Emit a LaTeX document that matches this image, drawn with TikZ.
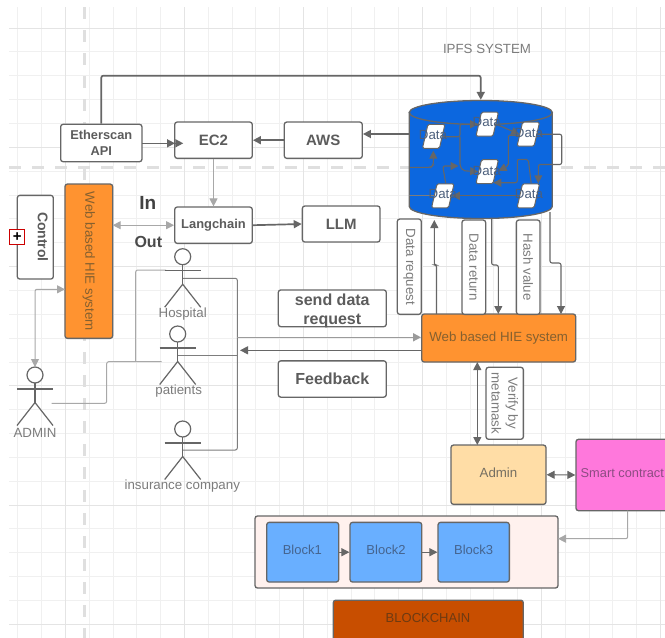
\documentclass[tikz,border=0pt]{standalone}
\usepackage{fontspec}
\setmainfont{Liberation Sans}
\usetikzlibrary{arrows.meta,shapes.geometric}
\definecolor{ln}{HTML}{666666}
\definecolor{lnlight}{HTML}{A8A8A8}
\definecolor{txt}{HTML}{5C5C5C}
\definecolor{txl}{HTML}{7C7C7C}
\definecolor{gridc}{HTML}{F0F0F0}
\definecolor{gridm}{HTML}{E4E4E4}
\definecolor{dashc}{HTML}{DFDFDF}
\definecolor{dbblue}{HTML}{0C67DF}
\definecolor{hie}{HTML}{FF9330}
\definecolor{hietx}{HTML}{85602F}
\definecolor{admfill}{HTML}{FFDDA6}
\definecolor{admtx}{HTML}{756F62}
\definecolor{pinkf}{HTML}{FF78DC}
\definecolor{pinktx}{HTML}{8C4C82}
\definecolor{chainf}{HTML}{FFF1EE}
\definecolor{blockf}{HTML}{69AFFF}
\definecolor{blocktx}{HTML}{45648F}
\definecolor{bcf}{HTML}{C84E00}
\definecolor{bctx}{HTML}{6E3A12}
\definecolor{datatx}{HTML}{4C5F7C}
\newcommand{\plainfs}{\fontsize{13.3}{15.5}\selectfont}
\tikzset{
  x=1pt,y=-1pt,
  box/.style={draw=ln,line width=1.3pt,rounded corners=2.5pt,fill=white,text=txt,align=center,inner sep=0pt,font=\bfseries\fontsize{15}{17}\selectfont},
  plainbox/.style={box,font=\plainfs},
  lbl/.style={plainbox,text=txl,rotate=-90},
  dt/.style={draw=ln,line width=1pt,fill=white,rounded corners=1.5pt,xslant=0.23,minimum width=17pt,minimum height=24pt,inner sep=0pt},
  dtx/.style={text=datatx,font=\plainfs,inner sep=0pt},
  tx/.style={text=txl,inner sep=0pt,font=\plainfs},
  ar/.style={draw=ln,line width=1.1pt,rounded corners=2pt,-{Triangle[length=8pt,width=8pt]}},
  arr/.style={ar,{Triangle[length=8pt,width=8pt]}-{Triangle[length=8pt,width=8pt]}},
  thick line/.style={line width=1.7pt},
  light line/.style={draw=lnlight,line width=1pt},
  wire/.style={draw=ln!85,line width=1pt,rounded corners=2pt},
  lwire/.style={draw=lnlight,line width=1pt,rounded corners=2pt},
  actor/.style={draw=ln,line width=1.2pt},
}
\newcommand{\stick}[3]{% x, y of head centre, half arm width
  \draw[actor] (#1,#2+8) -- (#1,#2+27.5);
  \draw[actor] (#1-#3,#2+14) -- (#1+#3,#2+14);
  \draw[actor] (#1-#3,#2+50.5) -- (#1,#2+27.5) -- (#1+#3,#2+50.5);
  \draw[actor,fill=white] (#1,#2) circle (8);
}
\begin{document}
\begin{tikzpicture}
\useasboundingbox (0,0) rectangle (665,638);
\fill[white] (0,0) rectangle (665,638);
% grid
\foreach \k in {0,...,27} {\draw[gridc,line width=0.8pt] ({17.8+23.8*\k},7) -- ({17.8+23.8*\k},638);}
\foreach \k in {0,...,25} {\draw[gridc,line width=0.8pt] (9,{28+23.85*\k}) -- (665,{28+23.85*\k});}
\foreach \k in {0,...,5} {\draw[gridm,line width=0.8pt] ({65.4+119*\k},7) -- ({65.4+119*\k},638);}
\foreach \k in {0,...,5} {\draw[gridm,line width=0.8pt] (9,{28+119.25*\k}) -- (665,{28+119.25*\k});}
\draw[dashc,line width=3pt,dash pattern=on 11.5pt off 11.5pt] (84,7) -- (84,638);
\draw[dashc,line width=3pt,dash pattern=on 11.5pt off 11.5pt] (9,167) -- (665,167);

\node[text=txl,font=\plainfs,inner sep=0pt] (ipfs) at (487,49) {IPFS SYSTEM};

% database
\path[draw=ln,line width=1.3pt,fill=dbblue] (409.3,112.5) -- (409.3,206.5) arc[start angle=180,end angle=360,x radius=71.5,y radius=-12] -- (552.3,112.5) -- cycle;
\node[draw=ln,line width=1.3pt,fill=dbblue,shape=ellipse,minimum width=143pt,minimum height=24pt,inner sep=0pt] (db) at (480.8,112.5) {};
\coordinate (dbleft) at (409.3,134);
\coordinate (dbL2) at (409.3,167.3);
\coordinate (dbL3) at (409.3,195.8);

% boxes
\node[box,minimum width=81.3pt,minimum height=37.4pt,font=\bfseries\fontsize{12.8}{16.5}\selectfont] (eth) at (101.3,143) {Etherscan\\API};
\node[box,minimum width=77.6pt,minimum height=36.3pt] (ec2) at (213.5,140.2) {EC2};
\node[box,minimum width=78pt,minimum height=36.3pt] (aws) at (323.3,140.2) {AWS};
\node[box,minimum width=77.6pt,minimum height=36.3pt,font=\bfseries\fontsize{12.9}{15}\selectfont] (lang) at (213.5,225.2) {Langchain};
\node[box,minimum width=77.7pt,minimum height=36pt] (llm) at (341.2,224) {LLM};
\node[box,rotate=-90,minimum width=83.7pt,minimum height=36pt] (ctrl) at (35.3,237.2) {};
\node[text=txt,font=\bfseries\fontsize{14}{16}\selectfont,rotate=-90,inner sep=0pt] (ctrlt) at (43,237) {Control};
\node[box,rotate=-90,fill=hie,minimum width=154.3pt,minimum height=47.7pt,font=\plainfs,text=hietx] (hieL) at (88.8,261.2) {Web based HIE system};
\node[box,minimum width=108pt,minimum height=36.7pt] (send) at (332.3,308.3) {};
\node[text=txt,align=center,inner sep=0pt,font=\bfseries\fontsize{16}{19}\selectfont] (sendt) at (332.3,310.5) {send data\\request};
\node[box,minimum width=108pt,minimum height=36.3pt,font=\bfseries\fontsize{16}{19}\selectfont] (fb) at (332.3,379) {Feedback};
\node[box,fill=hie,minimum width=154pt,minimum height=48pt,font=\plainfs,text=hietx] (hieR) at (498.7,338) {Web based HIE system};
\node[lbl,minimum width=95.3pt,minimum height=24pt] (dreq) at (409.3,266.7) {Data request};
\node[lbl,minimum width=94.3pt,minimum height=23.7pt] (dret) at (473.8,267.2) {Data return};
\node[lbl,minimum width=94.3pt,minimum height=23.7pt] (hash) at (528.2,267.2) {Hash value};
\node[lbl,minimum width=72pt,minimum height=37.3pt,font=\fontsize{13.3}{16.7}\selectfont] (ver) at (504.7,403.3) {Verify by\\metamask};
\node[box,fill=admfill,minimum width=95pt,minimum height=59.3pt] (admin) at (498.5,474.7) {};
\node[text=admtx,font=\plainfs,inner sep=0pt] (admint) at (498.5,472.7) {Admin};
\node[box,fill=pinkf,minimum width=100pt,minimum height=71.4pt] (sc) at (626,475) {};
\node[text=pinktx,font=\fontsize{12.8}{15}\selectfont,inner sep=0pt,anchor=west] (sct) at (580.5,472.7) {Smart contract};
\node[box,fill=chainf,minimum width=303pt,minimum height=72pt] (chain) at (406.5,552) {};
\node[box,fill=blockf,minimum width=72pt,minimum height=59.7pt] (b1) at (302.7,552.2) {};
\node[box,fill=blockf,minimum width=71.7pt,minimum height=59.7pt] (b2) at (385.9,552.2) {};
\node[box,fill=blockf,minimum width=71.3pt,minimum height=59.7pt] (b3) at (473.7,552.2) {};
\node[text=blocktx,font=\fontsize{13}{15}\selectfont,inner sep=0pt] (b1t) at (302.3,550) {Block1};
\node[text=blocktx,font=\fontsize{13}{15}\selectfont,inner sep=0pt] (b2t) at (386,550) {Block2};
\node[text=blocktx,font=\fontsize{13}{15}\selectfont,inner sep=0pt] (b3t) at (473.7,550) {Block3};
\node[box,fill=bcf,minimum width=190pt,minimum height=50pt,anchor=north] (bc) at (428.3,599.5) {};
\node[text=bctx,font=\fontsize{13}{15}\selectfont,inner sep=0pt] (bct) at (428,618) {BLOCKCHAIN};

% in/out
\node[text=txt!70!black,font=\bfseries\fontsize{19}{21}\selectfont,inner sep=0pt] (in) at (147.7,203) {In};
\node[text=txt!80!black,font=\bfseries\fontsize{16}{18}\selectfont,inner sep=0pt] (out) at (148.3,242) {Out};

% plus marker
\node[draw=red!80!black,line width=1pt,fill=white,minimum size=15pt,inner sep=0pt,font=\bfseries\fontsize{15}{15}\selectfont] (plus) at (17.2,237) {+};

% actor wires (behind the figures)
\coordinate (hosp) at (182.7,278.3);
\coordinate (ins) at (182.7,450);
\coordinate (pat) at (177.7,355);
\coordinate (busT) at (237.3,337.3);
\coordinate (busM) at (237.3,355);
\coordinate (hospArm) at (166,270);
\coordinate (patArm) at (161.7,361.7);
\coordinate (admArm) at (51.7,403.3);
\coordinate (admTop) at (35,367);
\coordinate (branch) at (135.7,361.7);
\draw[wire] (hosp) -- (237.3,278.3) -- (237.3,450) -- (ins);
\draw[wire] (pat) -- (busM);
\draw[lwire] (admArm) -- (106.7,403.3) -- (106.7,361.7) -- (patArm);
\draw[lwire] (branch) -- (135.7,270) -- (hospArm);

% actors
\stick{182.7}{256.7}{18}
\stick{177.7}{334}{18}
\stick{182.7}{429}{18}
\stick{35}{375}{18}
\node[tx] (lh) at (182.7,314) {Hospital};
\node[tx] (lp) at (178.7,391) {patients};
\node[tx] (li) at (182.3,486) {insurance company};
\node[tx] (la) at (35,432.5) {ADMIN};

% data items
\node[dt] (d1) at (433.7,136.3) {};
\node[dt] (d2) at (487.2,124.2) {};
\node[dt] (d3) at (528.3,134.2) {};
\node[dt] (d4) at (487.2,171.7) {};
\node[dt] (d5) at (442.8,195.8) {};
\node[dt] (d6) at (528.3,195.8) {};

% db internal wiring
\coordinate (j1) at (460,136.7);
\coordinate (j2) at (458.5,166);
\draw[ar] (d1.east) ++(0,0.4) -- (j1) -- (460,124.3) -- (d2.west);
\draw[ar] (j1) -- (460,166) -- (463,170.7) -- (d4.west);
\draw[ar] (d5.north) -- (442.8,166) -- (j2);
\draw[ar] (d2.east) -- (d3.west);
\draw[ar] (d3.west) ++(0,1) -- (508.3,135.2) -- (508.3,166) -- (498.5,170.7);
\draw[ar] (d6.north) -- (528.3,159.3) -- (517.3,159.3) -- (517.3,182.7) -- (493.3,182.7);
\draw[ar] (d6.west) -- (d5.east);
\draw[wire] (d5.west) -- (dbL3);
\draw[ar] (d3.east) -- (561.7,134.2) -- (561.7,164.5) -- (538.3,164.5) -- (538.3,183.3);
\draw[ar] (dbL2) -- (431,167.3) -- (433.3,165) -- (433.3,150.7);
% data labels
\node[dtx] (t1) at (433,134.5) {Data};
\node[dtx] (t2) at (486.7,122.3) {Data};
\node[dtx] (t3) at (529,132.7) {Data};
\node[dtx] (t4) at (486.7,170.7) {Data};
\node[dtx] (t5) at (442.7,194.3) {Data};
\node[dtx] (t6) at (529,194.3) {Data};

% main connectors
\draw[ar,thick line] (eth.north) -- (101.3,75.7) -- (480.7,75.7) -- (db.north);
\draw[ar,thick line] (dbleft) -- (aws.east |- dbleft);
\draw[ar,thick line] (aws.west) -- (ec2.east);
\coordinate (ethout) at (142,143.3);
\coordinate (ecin) at (183.3,143.3);
\coordinate (ecin2) at (175,143.3);
\draw[ar,line width=1.5pt] (ethout) -- (ecin2);
\draw[ar,line width=1.5pt] (ethout) -- (ecin);
\draw[ar,light line] (ec2.south) -- (lang.north);
\draw[ar,thick line] (lang.east) -- (llm.west);
\coordinate (hieLin) at (112.7,225.2);
\coordinate (hieLad) at (65,289.3);
\draw[arr,light line] (hieLin) -- (lang.west);
\draw[arr,light line] (hieLad) -- (35,289.3) -- (admTop);
% web based HIE links
\draw[ar,line width=1.6pt,draw=lnlight!80!ln] (busT) -- (hieR.west |- busT);
\coordinate (hieRb) at (421.7,350.3);
\coordinate (busR) at (240,350.3);
\draw[ar] (hieRb) -- (busR);
\coordinate (a1) at (436.5,314);
\coordinate (a2) at (434.3,220);
\draw[ar] (a1) -- (436.5,265) -- (434.3,265) -- (a2);
\coordinate (a3) at (491.7,218);
\coordinate (a4) at (498.3,314);
\draw[ar] (a3) -- (491.7,265) -- (498.3,265) -- (a4);
\coordinate (a5) at (550,212);
\coordinate (a6) at (561,314);
\draw[ar] (a5) -- (550,263) -- (561,263) -- (a6);
\draw[arr] (477.3,362) -- (477.3,445);
\draw[arr] (admin.east) -- (sc.west);
\coordinate (sc0) at (627.7,510.7);
\coordinate (chainR) at (558,538.7);
\draw[ar,light line,rounded corners=2pt] (sc0) -- (627.7,538.7) -- (chainR);
\draw[ar] (b1.east) -- (b2.west);
\draw[ar] (b2.east) -- (b3.west);
\end{tikzpicture}
\end{document}
